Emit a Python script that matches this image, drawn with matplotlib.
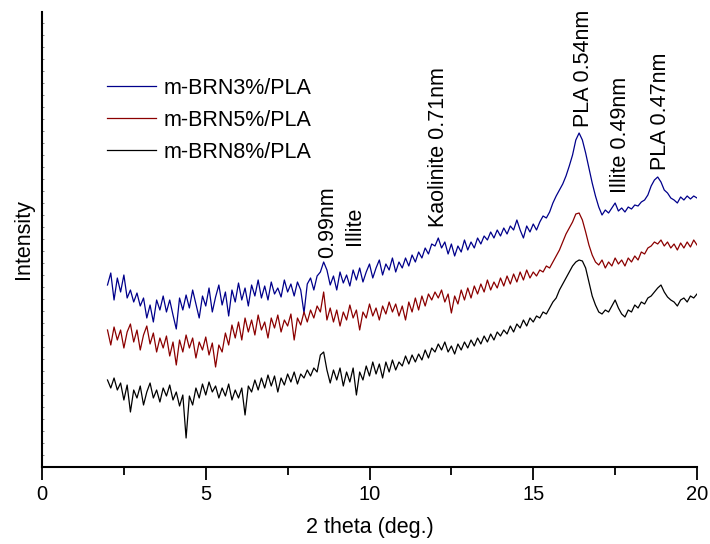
import numpy as np
import matplotlib
matplotlib.use("Agg")
import matplotlib.pyplot as plt
from matplotlib.ticker import MultipleLocator

plt.rcParams['font.family'] = ['Liberation Sans', 'DejaVu Sans']

# 2 theta grid, 2..20 deg in 0.1 deg steps
two_theta = np.round(np.arange(2.0, 20.01, 0.1), 1)

# intensities (a.u.)
brn3 = [182, 194, 167, 189, 175, 192, 169, 177, 165, 174,
        161, 169, 149, 162, 145, 167, 157, 171, 155, 167,
        152, 138, 169, 157, 172, 159, 177, 163, 149, 171,
        161, 179, 155, 170, 182, 162, 175, 151, 177, 165,
        184, 167, 179, 161, 182, 171, 187, 169, 181, 167,
        185, 173, 179, 170, 187, 175, 183, 171, 185, 177,
        154, 183, 189, 177, 191, 195, 205, 197, 182, 191,
        177, 195, 184, 192, 181, 197, 187, 199, 185, 195,
        203, 189, 199, 207, 192, 203, 197, 209, 195, 205,
        199, 209, 201, 212, 205, 215, 209, 219, 213, 223,
        221, 229, 219, 225, 213, 223, 211, 221, 215, 227,
        217, 225, 219, 229, 223, 231, 227, 235, 229, 237,
        231, 239, 233, 241, 237, 247, 237, 229, 241, 235,
        243, 237, 245, 251, 249, 255, 264, 271, 277, 283,
        291, 301, 312, 327, 334, 327, 314, 299, 284, 271,
        260, 252, 257, 254, 259, 264, 256, 259, 255, 260,
        258, 262, 261, 265, 267, 272, 281, 287, 290, 285,
        277, 274, 269, 267, 264, 270, 267, 271, 268, 271,
        269]

brn5 = [137, 122, 140, 127, 137, 119, 135, 143, 125, 137,
        117, 132, 141, 123, 134, 115, 129, 119, 131, 111,
        125, 102, 127, 115, 132, 119, 129, 109, 125, 117,
        130, 112, 124, 100, 122, 115, 134, 122, 142, 129,
        145, 127, 149, 135, 147, 132, 152, 137, 145, 129,
        149, 139, 152, 135, 147, 141, 153, 127, 149, 142,
        155, 145, 157, 149, 161, 155, 175, 147, 159, 145,
        157, 141, 155, 147, 162, 149, 157, 137, 155, 149,
        163, 151, 159, 147, 161, 153, 165, 155, 163, 151,
        161, 147, 165, 155, 169, 157, 171, 161, 173, 167,
        175, 169, 177, 165, 173, 154, 171, 163, 177, 167,
        179, 169, 181, 173, 183, 175, 187, 177, 185, 179,
        189, 181, 191, 183, 193, 185, 195, 187, 197, 189,
        195, 191, 197, 195, 201, 199, 205, 211, 217, 225,
        233, 239, 245, 253, 254, 247, 235, 222, 212, 205,
        202, 207, 199, 205, 201, 209, 203, 207, 201, 209,
        205, 211, 207, 215, 213, 219, 221, 225, 223, 227,
        221, 225, 219, 223, 217, 224, 219, 225, 220, 227,
        222]

brn8 = [87, 79, 89, 77, 84, 67, 82, 55, 77, 69,
        81, 62, 75, 84, 69, 77, 65, 79, 71, 82,
        67, 75, 61, 72, 29, 71, 62, 79, 69, 83,
        72, 85, 75, 81, 69, 79, 71, 83, 67, 77,
        69, 79, 52, 81, 75, 87, 77, 89, 79, 92,
        81, 91, 75, 89, 82, 93, 85, 95, 83, 93,
        89, 97, 91, 99, 95, 112, 115, 97, 84, 97,
        87, 99, 81, 95, 85, 99, 72, 95, 87, 101,
        91, 105, 93, 103, 89, 105, 95, 107, 97, 105,
        101, 111, 103, 112, 105, 113, 107, 117, 109, 119,
        115, 123, 117, 125, 115, 121, 113, 123, 117, 125,
        119, 127, 121, 129, 123, 131, 125, 133, 127, 135,
        131, 137, 133, 141, 135, 143, 139, 147, 141, 149,
        145, 151, 149, 155, 153, 159, 165, 169, 177, 183,
        189, 195, 201, 205, 207, 206, 199, 185, 171, 162,
        155, 153, 157, 155, 161, 167, 159, 153, 150, 157,
        155, 162, 159, 165, 163, 169, 171, 175, 179, 182,
        175, 170, 167, 165, 161, 167, 169, 165, 171, 169,
        173]

labels = ["m-BRN3%/PLA", "m-BRN5%/PLA", "m-BRN8%/PLA"]
colors = ["#00008B", "#8B0000", "black"]

# peak annotations: (2 theta, intensity at text bottom, text)
peak_pos = [8.72, 9.55, 12.12, 16.52, 17.65, 18.9]
peak_y = [209, 222, 240, 340, 274, 297]
peak_txt = ["0.99nm", "Illite", "Kaolinite 0.71nm", "PLA 0.54nm",
            "Illite 0.49nm", "PLA 0.47nm"]

fig = plt.figure(figsize=(7.1, 5.44), dpi=100)
ax = fig.add_axes([42 / 710, (544 - 467) / 544, 655 / 710, 455 / 544])

for y, lab, c in zip([brn3, brn5, brn8], labels, colors):
    ax.plot(two_theta, y, color=c, lw=0.9, label=lab)

for px, py, t in zip(peak_pos, peak_y, peak_txt):
    ax.text(px, py, t, rotation=90, ha='center', va='bottom', fontsize=15.5)

ax.set_xlim(0, 20)
ax.set_ylim(0, 455)
ax.xaxis.set_major_locator(MultipleLocator(5))
ax.xaxis.set_minor_locator(MultipleLocator(2.5))
ax.yaxis.set_major_locator(MultipleLocator(12))
ax.tick_params(axis='x', which='major', direction='out', length=9, width=1.3,
               labelsize=14.5, pad=4)
ax.tick_params(axis='x', which='minor', direction='out', length=6, width=1.3)
ax.tick_params(axis='y', which='major', direction='in', length=1.5, width=0.5,
               color='#555555', labelleft=False)

for s in ['top', 'right']:
    ax.spines[s].set_visible(False)
for s in ['left', 'bottom']:
    ax.spines[s].set_linewidth(1.5)

ax.set_xlabel("2 theta (deg.)", fontsize=15.5, labelpad=9)
ax.set_ylabel("Intensity", fontsize=15.5, labelpad=6)

ax.legend(loc='upper left', bbox_to_anchor=(0.099, 0.855), frameon=False,
          fontsize=15.5, handlelength=2.3, handletextpad=0.35,
          labelspacing=0.5, borderpad=0, borderaxespad=0)

fig.savefig("out.png", dpi=100)
